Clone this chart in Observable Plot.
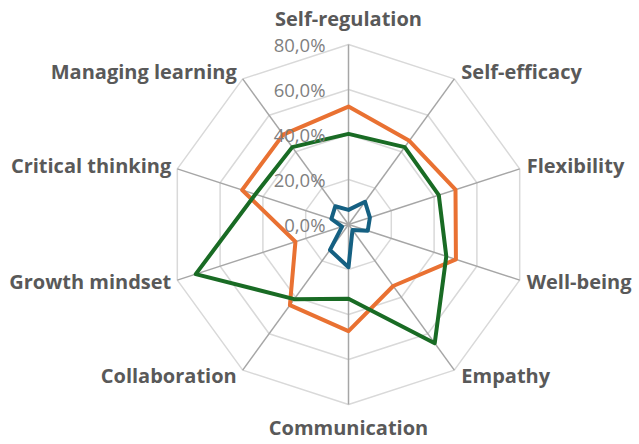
<!DOCTYPE html>
<html><head><meta charset="utf-8">
<script src="https://cdn.jsdelivr.net/npm/d3@7"></script>
<script src="https://cdn.jsdelivr.net/npm/@observablehq/plot@0.6"></script>
<style>body{margin:0;background:#fff}#chart svg{display:block}</style>
</head><body><div id="chart"></div>
<script>
// ---- data ----
const categories = ["Self-regulation","Self-efficacy","Flexibility","Well-being","Empathy","Communication","Collaboration","Growth mindset","Critical thinking","Managing learning"];
const seriesNames = ["Blue series","Orange series","Green series"];
const blueValues   = [0.065,0.125,0.100,0.090,0.030,0.190,0.140,0.030,0.080,0.100];
const orangeValues = [0.524,0.460,0.500,0.502,0.338,0.474,0.443,0.248,0.497,0.494];
const greenValues  = [0.403,0.425,0.422,0.457,0.652,0.330,0.410,0.714,0.435,0.425];
const tickValues = [0, 0.2, 0.4, 0.6, 0.8];
const tickLabels = ["0,0%","20,0%","40,0%","60,0%","80,0%"];
const seriesColors = ["#156082","#E97132","#196B24"];

// ---- geometry helpers ----
const W = 639, H = 444, CX = 348, CY = 224, K = 225; // px per unit
const n = categories.length;
const ang = i => i * 2 * Math.PI / n;
const px = (i, r) => r * Math.sin(ang(i));
const py = (i, r) => r * Math.cos(ang(i));
const rMax = tickValues[tickValues.length - 1];

const seriesData = [blueValues, orangeValues, greenValues].flatMap((vals, s) =>
  vals.map((v, i) => ({series: seriesNames[s], i, x: px(i, v), y: py(i, v)})));
const rings = tickValues.filter(t => t > 0).flatMap(t =>
  categories.map((c, i) => ({level: t, x: px(i, t), y: py(i, t)})));
const spokes = categories.map((c, i) => ({x: px(i, rMax), y: py(i, rMax)}));
const ticks = tickValues.map((t, k) => ({y: t, label: tickLabels[k]}));

const labels = categories.map((c, i) => {
  const s = Math.sin(ang(i)), co = Math.cos(ang(i));
  let dx, dy, anchor;
  if (Math.abs(s) < 0.01) { dx = 0; dy = co > 0 ? -25 : 24; anchor = "middle"; }
  else { dx = s > 0 ? 7 : -6; dy = -co * 8; anchor = s > 0 ? "start" : "end"; }
  return {text: c, anchor, x: px(i, rMax) + dx / K, y: py(i, rMax) - dy / K};
});

const labelFont = {fontFamily: "Open Sans", fontWeight: 700, fontSize: 20, fill: "#595959", lineAnchor: "middle"};

const chart = Plot.plot({
  width: W, height: H,
  marginTop: 0, marginRight: 0, marginBottom: 0, marginLeft: 0,
  x: {domain: [-CX / K, (W - CX) / K], axis: null},
  y: {domain: [-(H - CY) / K, CY / K], axis: null},
  color: {domain: seriesNames, range: seriesColors},
  style: {background: "#fff"},
  marks: [
    Plot.line(rings, {x: "x", y: "y", z: "level", curve: "linear-closed", stroke: "#d9d9d9", strokeWidth: 1.5}),
    Plot.link(spokes, {x1: 0, y1: 0, x2: "x", y2: "y", stroke: "#a6a6a6", strokeWidth: 1.5}),
    Plot.line(seriesData, {x: "x", y: "y", z: "series", stroke: "series", curve: "linear-closed", strokeWidth: 4, strokeLinejoin: "round"}),
    Plot.text(ticks, {x: 0, y: "y", text: "label", textAnchor: "end", dx: -23, dy: 2, fill: "#7f7f7f", fontSize: 18.5, fontFamily: "Open Sans"}),
    ...["start", "middle", "end"].map(a =>
      Plot.text(labels.filter(d => d.anchor === a), {x: "x", y: "y", text: "text", textAnchor: a, ...labelFont}))
  ]
});
document.getElementById("chart").append(chart);
</script>
</body></html>
